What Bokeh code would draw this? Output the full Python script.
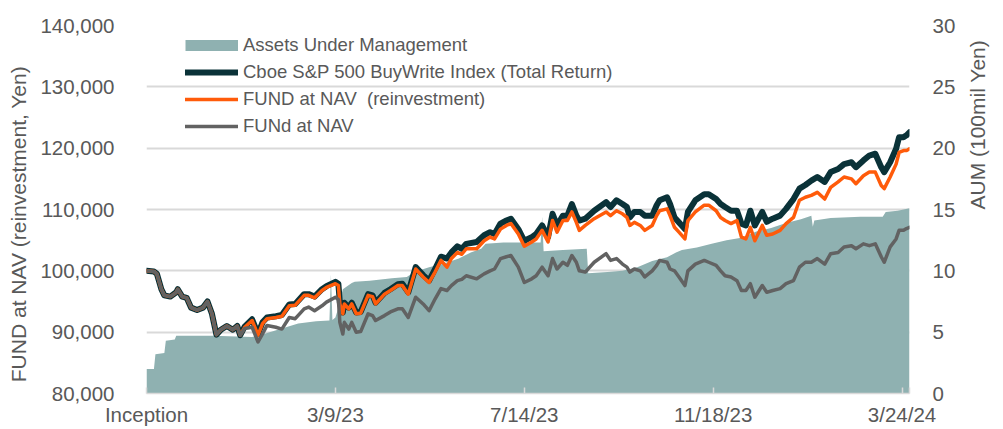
import math
import pandas as pd
from bokeh.plotting import figure
from bokeh.models import (Range1d, LinearAxis, FixedTicker, NumeralTickFormatter,
                          Legend, LegendItem)
from bokeh.embed import file_html
from bokeh.resources import INLINE

# ---------------- data ----------------
INCEPTION = "2022-11-02"
tick_dates = ["2022-11-02", "2023-03-09", "2023-07-14", "2023-11-18", "2024-03-24"]
tick_labels = ["Inception", "3/9/23", "7/14/23", "11/18/23", "3/24/24"]

# calendar days since inception
line_day = [0, 5, 7, 10, 12, 16, 20, 21, 24, 27,
            30, 34, 38, 41, 44, 47, 50, 54, 58, 61,
            63, 66, 71, 75, 78, 81, 87, 91, 96, 100,
            106, 109, 113, 118, 121, 127, 129, 130, 132, 133,
            136, 138, 141, 144, 149, 152, 154, 160, 164, 169,
            172, 176, 181, 186, 190, 194, 198, 202, 205, 209,
            212, 215, 222, 227, 231, 234, 238, 242, 245, 250,
            254, 259, 262, 266, 270, 273, 276, 280, 283, 286,
            289, 291, 295, 301, 309, 312, 316, 320, 323, 325,
            328, 332, 335, 340, 343, 345, 350, 352, 355, 358,
            362, 364, 369, 375, 378, 383, 386, 389, 393, 397,
            400, 403, 406, 409, 414, 417, 421, 426, 430, 435,
            439, 443, 447, 451, 456, 460, 465, 469, 474, 477,
            482, 486, 490, 494, 496, 500, 504, 506, 509, 511, 513]

# values in thousand yen
cboe_bxm_k = [100.0, 99.9, 99.5, 97.0, 96.0, 95.8, 96.5, 97.0, 95.8, 95.6,
              94.0, 93.6, 94.0, 95.0, 93.0, 89.6, 90.4, 91.0, 90.4, 91.0,
              89.5, 90.9, 92.1, 89.7, 91.6, 92.4, 92.6, 92.8, 94.5, 94.6,
              96.2, 96.2, 95.8, 97.0, 97.5, 98.2, 97.9, 94.8, 93.2, 94.8,
              94.0, 94.8, 93.2, 93.3, 96.2, 96.0, 94.8, 96.4, 97.0, 97.8,
              97.9, 96.5, 100.6, 99.3, 98.4, 100.3, 102.3, 102.0, 103.0, 104.0,
              103.6, 104.4, 104.7, 105.8, 106.3, 106.0, 107.7, 108.2, 108.5, 106.8,
              104.9, 105.5, 106.0, 107.4, 105.5, 109.3, 107.4, 109.0, 109.0, 110.9,
              109.0, 108.2, 108.5, 109.8, 111.2, 110.4, 111.5, 110.9, 110.4, 108.7,
              109.6, 109.6, 109.0, 109.0, 110.7, 111.5, 112.0, 110.9, 108.7, 107.9,
              106.8, 109.6, 111.5, 112.5, 112.5, 111.7, 110.9, 110.4, 109.8, 109.8,
              107.7, 107.4, 109.8, 107.4, 109.6, 108.0, 108.5, 109.0, 110.1, 111.7,
              113.4, 114.0, 114.7, 115.3, 114.5, 116.1, 116.6, 117.4, 117.7, 116.9,
              118.0, 118.8, 119.1, 116.9, 116.1, 117.7, 119.9, 121.8, 121.8, 122.1, 122.6]

fund_reinv_k = [100.0, 99.9, 99.5, 97.0, 96.0, 95.8, 96.5, 97.0, 95.8, 95.6,
                94.0, 93.6, 94.0, 95.0, 93.0, 89.6, 90.4, 91.0, 90.4, 91.0,
                89.5, 90.8, 91.9, 89.5, 91.4, 92.2, 92.4, 92.6, 94.3, 94.4,
                96.0, 96.0, 95.6, 96.8, 97.3, 97.9, 97.6, 94.6, 93.0, 94.6,
                93.8, 94.6, 93.0, 93.1, 96.0, 95.8, 94.6, 96.2, 96.8, 97.6,
                97.6, 96.2, 100.3, 99.0, 98.1, 99.8, 101.7, 100.6, 102.0, 103.0,
                102.7, 103.6, 103.6, 104.9, 105.5, 105.2, 106.8, 107.4, 107.7, 106.0,
                104.0, 104.7, 105.2, 106.6, 104.7, 108.2, 106.3, 108.2, 108.2, 109.6,
                107.9, 106.6, 107.4, 108.5, 109.6, 109.0, 109.8, 109.3, 108.7, 107.4,
                107.9, 107.4, 106.6, 107.4, 109.0, 109.8, 110.1, 109.0, 107.1, 106.3,
                105.2, 108.2, 109.6, 110.7, 110.7, 109.8, 108.7, 108.2, 107.7, 108.2,
                105.5, 105.2, 107.1, 104.9, 107.4, 105.8, 106.0, 106.6, 107.7, 108.7,
                111.5, 112.0, 112.3, 112.8, 111.7, 113.6, 114.5, 115.3, 115.0, 114.2,
                115.5, 116.1, 116.1, 113.9, 113.4, 115.3, 117.4, 119.3, 119.6, 119.6, 119.9]

fund_nav_k = [100.0, 99.9, 99.5, 97.0, 96.0, 95.8, 96.5, 97.0, 95.8, 95.6,
              94.0, 93.6, 94.0, 95.0, 93.0, 89.6, 90.4, 91.0, 90.4, 91.0,
              89.5, 90.6, 90.8, 88.4, 89.7, 91.1, 90.8, 90.5, 92.4, 92.2,
              93.8, 94.1, 93.5, 94.3, 94.9, 95.7, 95.3, 91.6, 89.7, 91.6,
              90.5, 91.6, 90.0, 90.1, 93.0, 92.7, 91.9, 92.7, 93.3, 93.8,
              93.8, 92.4, 95.7, 94.6, 93.5, 95.4, 97.1, 96.8, 97.6, 98.4,
              98.6, 99.2, 98.7, 99.5, 100.0, 100.3, 102.0, 102.3, 102.5, 100.6,
              98.1, 98.7, 99.2, 100.6, 99.2, 102.0, 100.3, 101.4, 100.9, 102.5,
              101.4, 100.0, 99.8, 101.4, 102.8, 101.7, 102.0, 101.1, 100.6, 99.8,
              100.3, 100.0, 99.0, 100.0, 100.9, 101.7, 101.4, 100.3, 100.0, 99.0,
              97.6, 100.0, 101.1, 101.7, 101.4, 100.9, 100.0, 99.2, 99.0, 98.4,
              96.8, 96.8, 97.9, 95.7, 97.6, 96.5, 96.8, 97.1, 97.9, 98.4,
              100.6, 101.4, 101.4, 102.0, 101.1, 102.8, 103.0, 103.9, 104.1, 103.6,
              104.4, 104.1, 104.4, 102.3, 101.4, 103.9, 105.2, 106.6, 106.6, 106.9, 107.1]

aum_day = [0, 5, 6, 12, 13, 19, 20, 45, 71, 80,
           91, 102, 114, 123, 124, 125, 127, 129, 132, 138,
           140, 150, 165, 175, 180, 190, 200, 210, 218, 225,
           228, 240, 265, 266, 267, 280, 296, 297, 310, 320,
           330, 340, 350, 356, 360, 370, 380, 390, 400, 410,
           420, 430, 440, 447, 448, 449, 460, 480, 495, 497,
           505, 513]
aum_100m_yen = [2.0, 2.0, 3.2, 3.3, 4.3, 4.4, 4.7, 4.7, 4.6, 4.9,
                5.3, 5.7, 5.9, 5.95, 9.7, 6.0, 6.2, 7.0, 8.5, 9.0,
                9.1, 9.2, 9.4, 9.5, 9.9, 10.3, 10.6, 11.0, 11.5, 11.8,
                12.2, 12.3, 12.3, 14.4, 11.6, 11.7, 11.8, 9.8, 9.9, 10.0,
                10.3, 10.8, 11.1, 11.5, 11.7, 11.9, 12.2, 12.5, 12.7, 13.2,
                13.5, 13.9, 14.2, 14.5, 13.6, 14.1, 14.3, 14.4, 14.4, 14.8,
                14.9, 15.1]

left_ticks = [80000, 90000, 100000, 110000, 120000, 130000, 140000]
right_ticks = [0, 5, 10, 15, 20, 25, 30]

LEFT_TITLE = "FUND at NAV (reinvestment, Yen)"
RIGHT_TITLE = "AUM (100mil Yen)"

# ---------------- styling ----------------
FONT = "Liberation Sans"
TXT = "#595959"
GRID = "#d9d9d9"
C_AUM = "#8fb1b1"
C_BXM = "#0a3238"
C_REINV = "#ff5b0a"
C_NAV = "#626262"
NBSP = "\u00a0"

W, H = 1003, 429
MB_L, MB_R, MB_T, MB_B = 146, 85, 25, 36

cboe = [v * 1000 for v in cboe_bxm_k]
reinv = [v * 1000 for v in fund_reinv_k]
nav = [v * 1000 for v in fund_nav_k]

t0 = pd.Timestamp(INCEPTION)
tick_pos = [(pd.Timestamp(d) - t0).days for d in tick_dates]
end_day = line_day[-1]

p = figure(width=W, height=H, output_backend="svg", toolbar_location=None,
           x_range=Range1d(0, end_day), y_range=Range1d(left_ticks[0], left_ticks[-1]),
           min_border_left=MB_L, min_border_right=MB_R, min_border_top=MB_T,
           min_border_bottom=MB_B, background_fill_color="white",
           border_fill_color="white")
p.outline_line_color = None
p.extra_y_ranges = {"aum": Range1d(right_ticks[0], right_ticks[-1]),
                    # off-screen range used only to give the legend a swatch
                    "swatch": Range1d(-200, -100)}

# AUM area
aum_r = p.varea(x=aum_day, y1=[0] * len(aum_day), y2=aum_100m_yen,
                fill_color=C_AUM, y_range_name="aum")
bxm_r = p.line(line_day, cboe, line_color=C_BXM, line_width=6,
               line_join="round", line_cap="round")
reinv_r = p.line(line_day, reinv, line_color=C_REINV, line_width=3.5,
                 line_join="round", line_cap="round")
nav_r = p.line(line_day, nav, line_color=C_NAV, line_width=3.5,
               line_join="round", line_cap="round")
# swatch for the legend: AUM series drawn on an off-screen range (clipped)
aum_swatch = p.line(aum_day, aum_100m_yen, line_color=C_AUM, line_width=11,
                    line_cap="butt", y_range_name="swatch")

# axes
xa = p.xaxis[0]
xa.ticker = FixedTicker(ticks=tick_pos + [end_day])
overrides = {tp: lab for tp, lab in zip(tick_pos, tick_labels)}
overrides[end_day] = ""
xa.major_label_overrides = overrides
xa.axis_line_color = GRID
xa.axis_line_width = 1.5
xa.major_tick_in = 6
xa.major_tick_out = 0
xa.major_tick_line_color = GRID
xa.major_tick_line_width = 1.5
xa.minor_tick_line_color = None
xa.major_label_standoff = 9

ya = p.yaxis[0]
ya.ticker = FixedTicker(ticks=left_ticks)
ya.formatter = NumeralTickFormatter(format="0,0")
ya.axis_line_color = None
ya.major_tick_line_color = None
ya.minor_tick_line_color = None
ya.major_label_standoff = 26
# trailing no-break spaces nudge the (bottom-to-top) title slightly downward
ya.axis_label = LEFT_TITLE + NBSP * 5
ya.axis_label_standoff = 7

ra = LinearAxis(y_range_name="aum", ticker=FixedTicker(ticks=right_ticks))
ra.axis_line_color = None
ra.major_tick_line_color = None
ra.minor_tick_line_color = None
ra.major_label_standoff = 17
ra.axis_label_standoff = 19
try:
    ra.axis_label_orientation = math.pi / 2   # read bottom-to-top
    ra.axis_label_text_align = "center"
    ra.axis_label_text_baseline = "middle"
    ra.axis_label = RIGHT_TITLE + NBSP * 4
except Exception:
    ra.axis_label = NBSP * 4 + RIGHT_TITLE
p.add_layout(ra, "right")

for ax in (xa, ya, ra):
    ax.major_label_text_font = FONT
    ax.major_label_text_font_size = "20.5px"
    ax.major_label_text_color = TXT
    ax.axis_label_text_font = FONT
    ax.axis_label_text_font_size = "21px"
    ax.axis_label_text_color = TXT
    ax.axis_label_text_font_style = "normal"

p.xgrid.visible = False
p.ygrid.grid_line_color = GRID
p.ygrid.grid_line_width = 2

legend = Legend(items=[
    LegendItem(label="Assets Under Management", renderers=[aum_swatch]),
    LegendItem(label="Cboe S&P 500 BuyWrite Index (Total Return)", renderers=[bxm_r]),
    LegendItem(label="FUND at NAV  (reinvestment)", renderers=[reinv_r]),
    LegendItem(label="FUNd at NAV", renderers=[nav_r]),
], location=(39, 256))
legend.glyph_width = 53
legend.glyph_height = 22
legend.label_height = 22
legend.label_standoff = 5
legend.spacing = 5
legend.padding = 0
legend.margin = 0
legend.border_line_color = None
legend.background_fill_alpha = 0
legend.label_text_font = FONT
legend.label_text_font_size = "18.5px"
legend.label_text_color = TXT
p.add_layout(legend)

open("out.html", "w").write(file_html(p, INLINE))
